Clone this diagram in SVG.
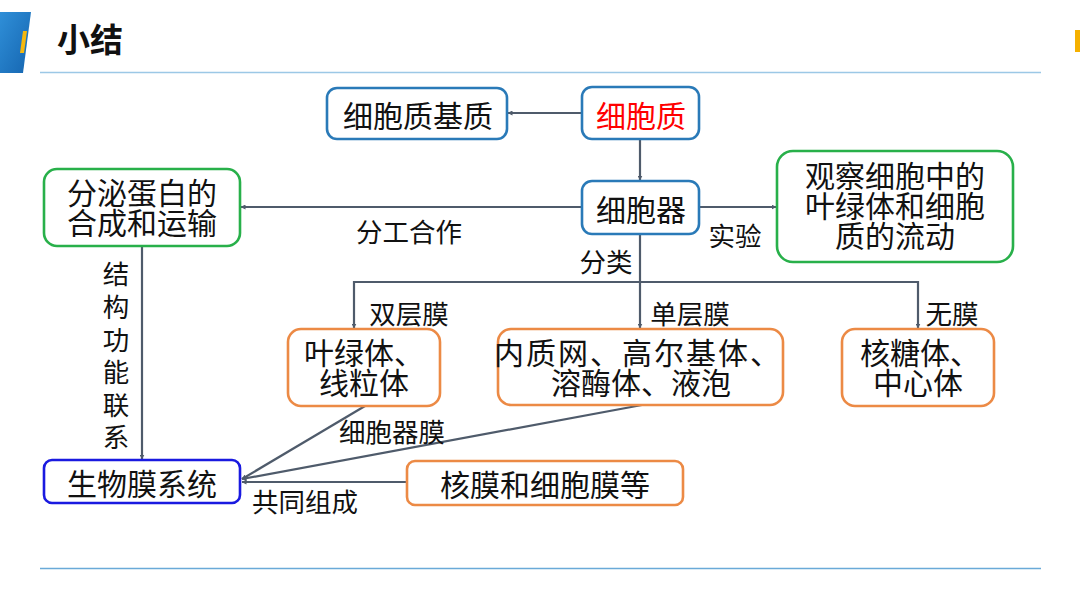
<svg xmlns="http://www.w3.org/2000/svg" width="1080" height="608" viewBox="0 0 1080 608">
<defs>
<linearGradient id="hdr" x1="0" y1="0" x2="1" y2="1">
<stop offset="0" stop-color="#2f8fd8"/>
<stop offset="1" stop-color="#1565b0"/>
</linearGradient>
<marker id="ah" viewBox="0 0 10 10" refX="9" refY="5" markerWidth="5" markerHeight="5" orient="auto" markerUnits="userSpaceOnUse">
<path d="M0,0 L10,5 L0,10 z" fill="#4f5b6b"/>
</marker>
</defs>
<style>
text{font-family:"Microsoft YaHei","Noto Sans CJK SC","Noto Sans",sans-serif;fill:#111;dominant-baseline:central;}
.n{font-size:30px;text-anchor:middle;}
.l{font-size:26.5px;text-anchor:middle;}
.box{fill:#fff;stroke-width:2.6;}
.b{stroke:#2a7ab8;}
.g{stroke:#28b04a;}
.o{stroke:#ec8a45;}
.bb{stroke:#1a1ae0;}
.c{fill:none;stroke:#4f5b6b;stroke-width:2.2;}
</style>
<rect width="1080" height="608" fill="#fff"/>
<g id="header">
<polygon points="0,12 31,12 23,73 0,73" fill="url(#hdr)"/>
<polygon points="23,31 27,31 24,53 20,53" fill="#f5b80f"/>
<rect x="1075" y="30" width="5" height="22" fill="#f5b000"/>
<text x="57" y="38" style="font-size:33px;font-weight:bold">小结</text>
<line x1="40" y1="72.5" x2="1041" y2="72.5" stroke="#9cc8e6" stroke-width="1.5"/>
<line x1="40" y1="568.5" x2="1041" y2="568.5" stroke="#6aaad8" stroke-width="1.5"/>
</g>
<g id="connectors">
<line class="c" x1="582" y1="113" x2="508" y2="113" marker-end="url(#ah)"/>
<line class="c" x1="640" y1="139" x2="640" y2="180" marker-end="url(#ah)"/>
<line class="c" x1="582" y1="207" x2="241" y2="207" marker-end="url(#ah)"/>
<line class="c" x1="699" y1="207" x2="776" y2="207" marker-end="url(#ah)"/>
<polyline class="c" points="640,234 640,282"/>
<polyline class="c" points="354,300 354,282 918,282 918,328" marker-end="url(#ah)"/>
<line class="c" x1="354" y1="300" x2="354" y2="328" marker-end="url(#ah)"/>
<line class="c" x1="640" y1="282" x2="640" y2="328" marker-end="url(#ah)"/>
<line class="c" x1="142" y1="246" x2="142" y2="459" marker-end="url(#ah)"/>
<line class="c" x1="365" y1="406" x2="242" y2="479" marker-end="url(#ah)"/>
<line class="c" x1="642" y1="405" x2="242" y2="479" marker-end="url(#ah)"/>
<line class="c" x1="407" y1="482" x2="242" y2="482" marker-end="url(#ah)"/>
<text class="l" x="409" y="230">分工合作</text>
<text class="l" x="735" y="234">实验</text>
<text class="l" x="606" y="260">分类</text>
<text class="l" x="409" y="312">双层膜</text>
<text class="l" x="690" y="312">单层膜</text>
<text class="l" x="952" y="312">无膜</text>
<text class="l" x="392" y="430">细胞器膜</text>
<text class="l" x="305" y="500">共同组成</text>
<text class="l" x="116" y="272"><tspan x="116" y="272">结</tspan><tspan x="116" y="305">构</tspan><tspan x="116" y="338">功</tspan><tspan x="116" y="370">能</tspan><tspan x="116" y="403">联</tspan><tspan x="116" y="435">系</tspan></text>
</g>
<g id="cytoplasm-matrix">
<rect class="box b" x="327" y="88" width="180" height="51" rx="10"/>
<text class="n" x="418" y="114">细胞质基质</text>
</g>
<g id="cytoplasm">
<rect class="box b" x="582" y="87" width="117" height="52" rx="10"/>
<text class="n" x="641" y="114" style="fill:#f00">细胞质</text>
</g>
<g id="organelle">
<rect class="box b" x="582" y="181" width="117" height="53" rx="10"/>
<text class="n" x="641" y="208">细胞器</text>
</g>
<g id="observe">
<rect class="box g" x="777" y="151" width="236" height="111" rx="16"/>
<text class="n"><tspan x="895" y="174">观察细胞中的</tspan><tspan x="895" y="204">叶绿体和细胞</tspan><tspan x="895" y="234">质的流动</tspan></text>
</g>
<g id="secretory">
<rect class="box g" x="44" y="169" width="196" height="77" rx="13"/>
<text class="n"><tspan x="142" y="191">分泌蛋白的</tspan><tspan x="142" y="221">合成和运输</tspan></text>
</g>
<g id="double-membrane">
<rect class="box o" x="288" y="329" width="152" height="77" rx="13"/>
<text class="n"><tspan x="364" y="351">叶绿体、</tspan><tspan x="364" y="381">线粒体</tspan></text>
</g>
<g id="single-membrane">
<rect class="box o" x="498" y="329" width="285" height="76" rx="13"/>
<text class="n"><tspan x="638" y="351" style="letter-spacing:2px">内质网、高尔基体、</tspan><tspan x="641" y="381">溶酶体、液泡</tspan></text>
</g>
<g id="no-membrane">
<rect class="box o" x="842" y="329" width="152" height="77" rx="13"/>
<text class="n"><tspan x="920" y="351">核糖体、</tspan><tspan x="918" y="381">中心体</tspan></text>
</g>
<g id="biomembrane">
<rect class="box bb" x="44" y="460" width="196" height="43" rx="8"/>
<text class="n" x="142" y="482">生物膜系统</text>
</g>
<g id="nuclear-membrane">
<rect class="box o" x="407" y="461" width="276" height="44" rx="8"/>
<text class="n" x="545" y="483">核膜和细胞膜等</text>
</g>
</svg>
